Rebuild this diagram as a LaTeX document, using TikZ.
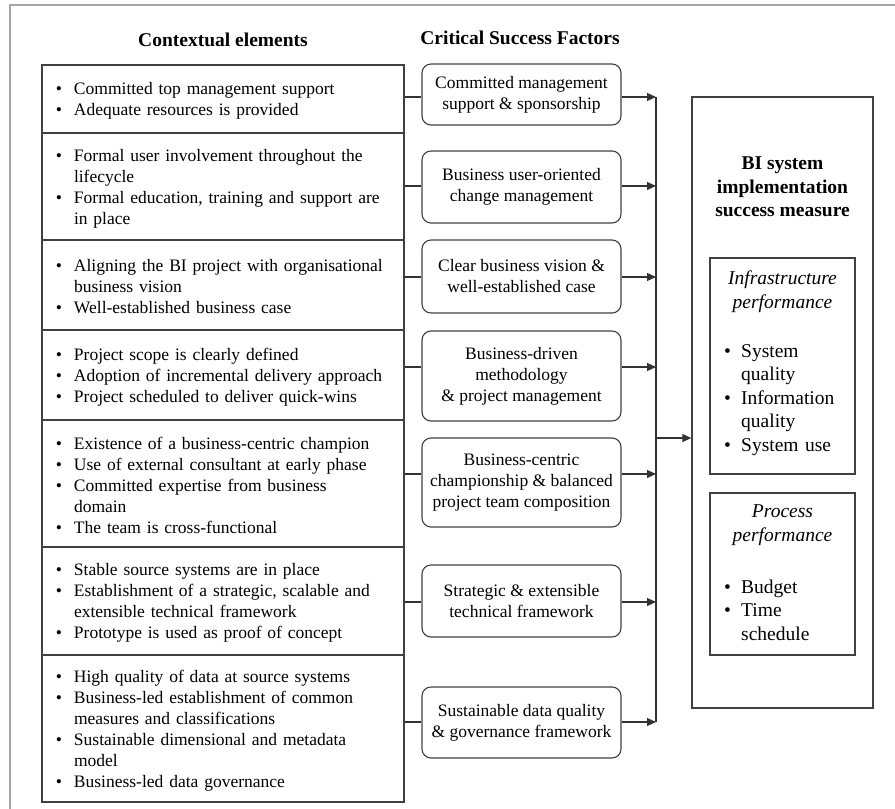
\documentclass[tikz,border=0pt]{standalone}
\usepackage{fontspec}
\setmainfont{Liberation Serif}
\usetikzlibrary{arrows.meta,positioning}
\newcommand\cf{\fontsize{17.5}{21}\selectfont}
\newcommand\rf{\fontsize{19.5}{23.5}\selectfont}
\newcommand\bl{\par\hangindent=22pt\hangafter=1\noindent\hbox to 22pt{\hskip4pt\textbullet\hss}}
\newcommand\blr{\par\hangindent=17pt\hangafter=1\noindent\hbox to 17pt{\textbullet\hss}}
\newcommand\blend{\par\kern5pt\hrule height0pt width0pt}
\tikzset{ctx/.style={rectangle,draw=black!75,line width=1.3pt,minimum width=362pt,text width=342pt,inner sep=0pt,align=left,font=\cf}}
\tikzset{csf/.style={rectangle,draw=black!75,line width=1.1pt,rounded corners=9pt,minimum width=199pt,inner sep=0pt,align=center,font=\cf}}
\tikzset{sbox/.style={rectangle,draw=black!75,line width=1.3pt,inner sep=0pt}}
\tikzset{hdr/.style={font=\fontsize{19.5}{23.5}\selectfont\bfseries}}
\tikzset{wire/.style={draw=black!80,line width=1.2pt}}

\begin{document}
\begin{tikzpicture}[x=1pt,y=-1pt,>={Triangle[length=9pt,width=8pt]}]
    \useasboundingbox (0,0) rectangle (895,809);
    \draw[gray!70,line width=2pt] (10,809) -- (10,5) -- (895,5);

    \node[hdr] (hctx) at (223,40) {Contextual elements};
    \node[hdr] (hcsf) at (520,38) {Critical Success Factors};

    % contextual elements
    \node[ctx,minimum height=68pt] (r1) at (223,99) {\bl Committed top management support
        \bl Adequate resources is provided\blend};
    \node[ctx,minimum height=107pt] (r2) at (223,186.5) {\bl Formal user involvement throughout the\newline lifecycle
        \bl Formal education, training and support are\newline in place\blend};
    \node[ctx,minimum height=90pt] (r3) at (223,285) {\bl Aligning the BI project with organisational\newline business vision
        \bl Well-established business case\blend};
    \node[ctx,minimum height=90pt] (r4) at (223,375) {\bl Project scope is clearly defined
        \bl Adoption of incremental delivery approach
        \bl Project scheduled to deliver quick-wins\blend};
    \node[ctx,minimum height=127pt] (r5) at (223,483.5) {\bl Existence of a business-centric champion
        \bl Use of external consultant at early phase
        \bl Committed expertise from business\newline domain
        \bl The team is cross-functional\blend};
    \node[ctx,minimum height=108pt] (r6) at (223,601) {\bl Stable source systems are in place
        \bl Establishment of a strategic, scalable and\newline extensible technical framework
        \bl Prototype is used as proof of concept\blend};
    \node[ctx,minimum height=147pt] (r7) at (223,728.5) {\bl High quality of data at source systems
        \bl Business-led establishment of common\newline measures and classifications
        \bl Sustainable dimensional and metadata\newline model
        \bl Business-led data governance\blend};

    % critical success factors
    \node[csf,minimum height=61pt] (c1) at (521.5,94.5) {Committed management\\support \& sponsorship};
    \node[csf,minimum height=72pt] (c2) at (521.5,187) {Business user-oriented\\change management};
    \node[csf,minimum height=73pt] (c3) at (521.5,276.5) {Clear business vision \&\\well-established case};
    \node[csf,minimum height=90pt] (c4) at (521.5,376) {Business-driven\\methodology\\\& project management};
    \node[csf,minimum height=89pt] (c5) at (521.5,482.5) {Business-centric\\championship \& balanced\\project team composition};
    \node[csf,minimum height=72pt] (c6) at (521.5,601) {Strategic \& extensible\\technical framework};
    \node[csf,minimum height=71pt] (c7) at (521.5,722.5) {Sustainable data quality\\\& governance framework};

    % success measure
    \node[sbox,minimum width=181pt,minimum height=611pt] (bi) at (782.5,402.5) {};
    \node[font=\fontsize{19.5}{23.5}\selectfont\bfseries,align=center] (bititle) at (782.5,187) {BI system\\implementation\\success measure};
    \node[sbox,minimum width=145pt,minimum height=216pt] (inf) at (782.5,366) {};
    \node[font=\rf\itshape,align=center] (infh) at (782.5,291.5) {Infrastructure\\performance};
    \node[font=\rf,text width=128pt,align=left,inner sep=0pt,anchor=west] (infl) at (724,394.5) {\blr System\newline quality
        \blr Information\newline quality
        \blr System use\par};
    \node[sbox,minimum width=145pt,minimum height=162pt] (proc) at (782.5,574) {};
    \node[font=\rf\itshape,align=center] (proch) at (782.5,525) {Process\\performance};
    \node[font=\rf,text width=128pt,align=left,inner sep=0pt,anchor=west] (procl) at (724,605) {\blr Budget
        \blr Time\newline schedule\par};

    % connectors
    \coordinate (bus) at (656,97);
    \foreach \i/\y in {1/97,2/186,3/277,4/367,5/474,6/602,7/722}{
        \draw[wire] (r\i.east |- 0,\y) -- (c\i.west |- 0,\y);
        \draw[wire,->] (c\i.east |- 0,\y) -- (bus |- 0,\y);
    }
    \draw[wire] (bus) -- (bus |- 0,722);
    \draw[wire,->] (bus |- 0,438) -- (bi.west |- 0,438);
\end{tikzpicture}
\end{document}
